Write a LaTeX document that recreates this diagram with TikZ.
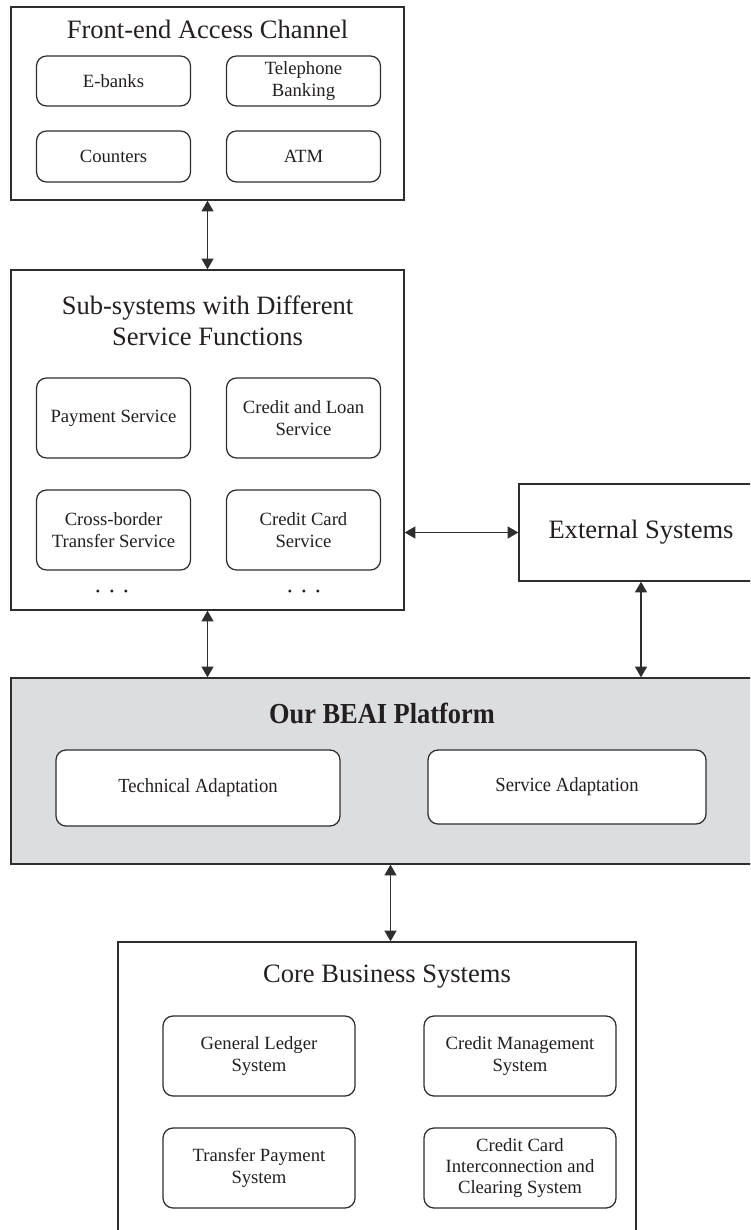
\documentclass[tikz,border=0pt]{standalone}
\usepackage{fontspec}
\setmainfont{Liberation Serif}
\newfontfamily\platformfont{Liberation Serif}[FakeStretch=0.91]
\newfontfamily\adaptfont{Liberation Serif}[FakeStretch=0.93]
\usetikzlibrary{arrows.meta}

% one drawing unit = one pixel of the final image
\newlength\pxu
\setlength\pxu{0.75pt}

\definecolor{linec}{HTML}{2E2E2E}
\definecolor{textc}{HTML}{231F20}
\definecolor{platgray}{HTML}{DCDDDF}

\tikzset{
  container/.style={draw=linec, line width=1.05pt, rectangle, inner sep=0pt},
  item/.style={draw=linec, line width=0.95pt, rectangle, rounded corners=10\pxu,
    fill=white, align=center, text=textc, inner sep=0pt,
    font=\fontsize{14}{16}\selectfont},
  heading/.style={align=center, text=textc, inner sep=0pt,
    font=\fontsize{19.9}{23.25}\selectfont},
  ellip/.style={text=textc, inner sep=0pt, font=\fontsize{9}{9}\selectfont},
  link/.style={draw=linec, line width=0.9pt,
    {Triangle[length=8pt,width=9pt]}-{Triangle[length=8pt,width=9pt]}},
}

\begin{document}
\begin{tikzpicture}[x=0.75pt,y=-0.75pt]
\useasboundingbox (0,0) rectangle (750,1230);
\clip (0,0) rectangle (750,1230);

% front-end access channel
\node[container, minimum width=393\pxu, minimum height=193\pxu] (fe) at (207.5,103.5) {};
\node[heading] (fetitle) at (207.5,29) {Front-end Access Channel};
\node[item, minimum width=154\pxu, minimum height=50\pxu] (ebank) at (113.5,81) {E-banks};
\node[item, minimum width=154\pxu, minimum height=50\pxu] (phone) at (303.5,81) {Telephone\\Banking};
\node[item, minimum width=154\pxu, minimum height=51\pxu] (counter) at (113.5,156.5) {Counters};
\node[item, minimum width=154\pxu, minimum height=51\pxu] (atm) at (303.5,156.5) {ATM};

% sub-systems
\node[container, minimum width=393\pxu, minimum height=340\pxu] (sub) at (207.5,440) {};
\node[heading] (subtitle) at (207.5,320.5) {Sub-systems with Different\\Service Functions};
\node[item, minimum width=154\pxu, minimum height=80\pxu] (pay) at (113.5,418) {Payment Service};
\node[item, minimum width=154\pxu, minimum height=80\pxu] (loan) at (303.5,418) {Credit and Loan\\Service};
\node[item, minimum width=154\pxu, minimum height=80\pxu] (cross) at (113.5,530) {Cross-border\\Transfer Service};
\node[item, minimum width=154\pxu, minimum height=80\pxu] (card) at (303.5,530) {Credit Card\\Service};
\node[ellip] (dotsl) at (112,593) {•\hspace{7.3pt}•\hspace{7.3pt}•};
\node[ellip] (dotsr) at (304,593) {•\hspace{7.3pt}•\hspace{7.3pt}•};

% external systems
\node[container, minimum width=244\pxu, minimum height=97\pxu, heading] (ext) at (641,532.5) {External Systems};

% platform
\node[container, fill=platgray, minimum width=759\pxu, minimum height=186\pxu] (plat) at (390.5,771) {};
\node[text=textc, inner sep=0pt, font=\platformfont\bfseries\fontsize{21.75}{24}\selectfont] (plattitle) at (382,713) {Our BEAI Platform};
\node[item, font=\adaptfont\fontsize{15}{17}\selectfont, minimum width=284\pxu, minimum height=76\pxu] (tech) at (198,788) {Technical Adaptation};
\node[item, font=\adaptfont\fontsize{15}{17}\selectfont, minimum width=278\pxu, minimum height=74\pxu] (serv) at (567,787) {Service Adaptation};

% core business systems
\node[container, minimum width=518\pxu, minimum height=308\pxu] (core) at (377,1096) {};
\node[heading] (coretitle) at (387,977) {Core Business Systems};
\node[item, minimum width=192\pxu, minimum height=80\pxu] (ledger) at (259,1056) {General Ledger\\System};
\node[item, minimum width=192\pxu, minimum height=80\pxu] (credit) at (520,1056) {Credit Management\\System};
\node[item, minimum width=192\pxu, minimum height=80\pxu] (transfer) at (259,1168) {Transfer Payment\\System};
\node[item, minimum width=192\pxu, minimum height=80\pxu] (clearing) at (520,1168) {Credit Card\\Interconnection and\\Clearing System};

% connectors
\draw[link] (fe.south) -- (sub.north);
\draw[link] (ext.west -| sub.east) -- (ext.west);
\draw[link] (sub.south) -- (sub.south |- plat.north);
\draw[link] (ext.south) -- (ext.south |- plat.north);
\draw[link] (plat.south) -- (plat.south |- core.north);
\end{tikzpicture}
\end{document}
